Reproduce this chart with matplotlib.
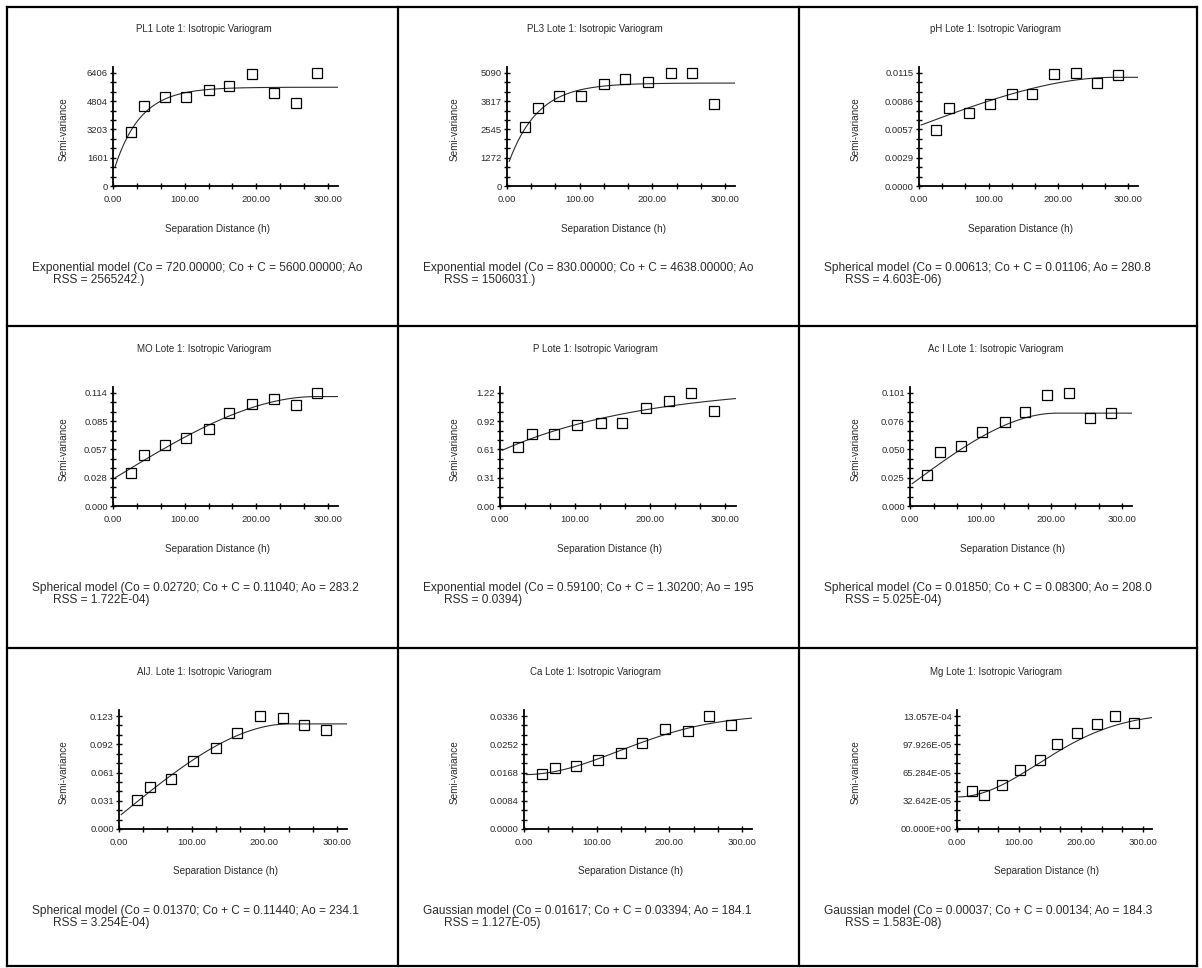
import numpy as np
import matplotlib
matplotlib.use("Agg")
import matplotlib.pyplot as plt
from matplotlib.ticker import FixedLocator, FixedFormatter, NullFormatter
from matplotlib.lines import Line2D

plt.rcParams['font.family'] = ['Liberation Sans', 'DejaVu Sans']

W, H = 1202, 968

# Mean separation distance of each lag class (same sampling grid for every variable)
lag_h = [24.5, 43, 72, 102, 134, 162, 194, 225, 255, 285]

titles = [
    "PL1 Lote 1: Isotropic Variogram",
    "PL3 Lote 1: Isotropic Variogram",
    "pH Lote 1: Isotropic Variogram",
    "MO Lote 1: Isotropic Variogram",
    "P Lote 1: Isotropic Variogram",
    "Ac I Lote 1: Isotropic Variogram",
    "AlJ. Lote 1: Isotropic Variogram",
    "Ca Lote 1: Isotropic Variogram",
    "Mg Lote 1: Isotropic Variogram",
]

# Experimental semivariances per lag class
gamma_pl1 = [3071, 4522, 5049, 5049, 5464, 5652, 6330, 5275, 4710, 6406]
gamma_pl3 = [2641, 3532, 4051, 4051, 4600, 4838, 4675, 5090, 5090, 3710]
gamma_ph = [0.00565, 0.00797, 0.00746, 0.00832, 0.00934, 0.00940, 0.0114, 0.0115, 0.01044, 0.0113]
gamma_mo = [0.0335, 0.0513, 0.0614, 0.0681, 0.0781, 0.0939, 0.1033, 0.1083, 0.1016, 0.114]
gamma_p = [0.640, 0.775, 0.782, 0.871, 0.900, 0.900, 1.053, 1.138, 1.22, 1.031]
gamma_ac = [0.0280, 0.0481, 0.0535, 0.0661, 0.0751, 0.0842, 0.0995, 0.101, 0.0791, 0.0830]
gamma_al = [0.0320, 0.0457, 0.0547, 0.0744, 0.0881, 0.1050, 0.123, 0.1212, 0.1133, 0.1075]
gamma_ca = [0.01646, 0.01821, 0.0187, 0.02065, 0.0226, 0.02552, 0.0297, 0.0291, 0.0336, 0.0309]
gamma_mg = [0.000440, 0.000395, 0.000508, 0.000685, 0.000798, 0.000986, 0.00111, 0.001212, 0.0013057, 0.001223]
gammas = [gamma_pl1, gamma_pl3, gamma_ph, gamma_mo, gamma_p, gamma_ac, gamma_al, gamma_ca, gamma_mg]

# Fitted models: type, nugget Co, sill Co + C, range parameter Ao
model_kind = ["exp", "exp", "sph", "sph", "exp", "sph", "sph", "gau", "gau"]
nugget = [720.0, 830.0, 0.00613, 0.02720, 0.59100, 0.01850, 0.01370, 0.01617, 0.00037]
sill = [5600.0, 4638.0, 0.01106, 0.11040, 1.30200, 0.08300, 0.11440, 0.03394, 0.00134]
range_a = [36.5, 40.0, 280.8, 283.2, 195.0, 208.0, 234.1, 184.1, 184.3]

# Axis maxima and y tick labels
y_max = [6406, 5090, 0.0115, 0.114, 1.22, 0.101, 0.123, 0.0336, 0.0013057]
y_ticklabels = [
    ["0", "1601", "3203", "4804", "6406"],
    ["0", "1272", "2545", "3817", "5090"],
    ["0.0000", "0.0029", "0.0057", "0.0086", "0.0115"],
    ["0.000", "0.028", "0.057", "0.085", "0.114"],
    ["0.00", "0.31", "0.61", "0.92", "1.22"],
    ["0.000", "0.025", "0.050", "0.076", "0.101"],
    ["0.000", "0.031", "0.061", "0.092", "0.123"],
    ["0.0000", "0.0084", "0.0168", "0.0252", "0.0336"],
    ["00.000E+00", "32.642E-05", "65.284E-05", "97.926E-05", "13.057E-04"],
]
x_ticks = [0, 100, 200, 300]
x_ticklabels = ["0.00", "100.00", "200.00", "300.00"]
x_max = 314

footnotes = [
    ("Exponential model (Co = 720.00000; Co + C = 5600.00000; Ao", "RSS = 2565242.)"),
    ("Exponential model (Co = 830.00000; Co + C = 4638.00000; Ao", "RSS = 1506031.)"),
    ("Spherical model (Co = 0.00613; Co + C = 0.01106; Ao = 280.8", "RSS = 4.603E-06)"),
    ("Spherical model (Co = 0.02720; Co + C = 0.11040; Ao = 283.2", "RSS = 1.722E-04)"),
    ("Exponential model (Co = 0.59100; Co + C = 1.30200; Ao = 195", "RSS = 0.0394)"),
    ("Spherical model (Co = 0.01850; Co + C = 0.08300; Ao = 208.0", "RSS = 5.025E-04)"),
    ("Spherical model (Co = 0.01370; Co + C = 0.11440; Ao = 234.1", "RSS = 3.254E-04)"),
    ("Gaussian model (Co = 0.01617; Co + C = 0.03394; Ao = 184.1", "RSS = 1.127E-05)"),
    ("Gaussian model (Co = 0.00037; Co + C = 0.00134; Ao = 184.3", "RSS = 1.583E-08)"),
]

# Page layout in pixels: table grid, then per panel the axis origin and x scale
col_edges = [7, 398, 799, 1197]
row_edges = [7, 326, 648, 966]
origin_x = [113, 507, 919, 113, 500, 910, 119, 524, 957]
px_per_unit = [0.717, 0.727, 0.697, 0.717, 0.75, 0.707, 0.727, 0.727, 0.62]
row_axis_y = [186, 506, 829]
row_title_y = [29, 349, 672]
row_xlabel_y = [229, 549, 871]
row_note_y = [268, 588, 911]
axis_px_h = 119
tick_px_h = 113

INK = "#2b2b2b"


def model(kind, h, c0, c, a):
    h = np.asarray(h, dtype=float)
    part = c - c0
    if kind == "exp":
        return c0 + part * (1.0 - np.exp(-h / a))
    if kind == "sph":
        r = np.clip(h / a, 0, 1)
        return c0 + part * (1.5 * r - 0.5 * r ** 3)
    return c0 + part * (1.0 - np.exp(-(h ** 2) / a ** 2))


fig = plt.figure(figsize=(W / 100, H / 100), dpi=100)
fig.patch.set_facecolor("white")

# table grid
for x in col_edges:
    fig.add_artist(Line2D([x / W, x / W], [1 - row_edges[0] / H, 1 - row_edges[-1] / H],
                          color="black", lw=1.6, transform=fig.transFigure))
for y in row_edges:
    fig.add_artist(Line2D([col_edges[0] / W, col_edges[-1] / W], [1 - y / H, 1 - y / H],
                          color="black", lw=1.6, transform=fig.transFigure))

h_line = np.linspace(3, x_max, 400)

for i in range(9):
    r, c = divmod(i, 3)
    cell_l = col_edges[c]
    x0 = origin_x[i]
    y0 = row_axis_y[r]
    wpx = x_max * px_per_unit[i]
    ax = fig.add_axes([x0 / W, 1 - y0 / H, wpx / W, axis_px_h / H])
    ymax = y_max[i]
    ax.set_xlim(0, x_max)
    ax.set_ylim(0, ymax * axis_px_h / tick_px_h)

    ax.plot(h_line, model(model_kind[i], h_line, nugget[i], sill[i], range_a[i]),
            color=INK, lw=0.8, zorder=2)
    ax.plot(lag_h, gammas[i], linestyle="none", marker="s", ms=7.2,
            mfc="none", mec="black", mew=0.9, zorder=3, clip_on=False)

    for side in ("top", "right"):
        ax.spines[side].set_visible(False)
    for side in ("left", "bottom"):
        ax.spines[side].set_linewidth(1.3)
        ax.spines[side].set_color("black")

    ax.yaxis.set_major_locator(FixedLocator([ymax * k / 4 for k in range(5)]))
    ax.yaxis.set_major_formatter(FixedFormatter(y_ticklabels[i]))
    ax.yaxis.set_minor_locator(FixedLocator([ymax * k / 12 for k in range(13) if k % 3]))
    ax.xaxis.set_major_locator(FixedLocator(x_ticks))
    ax.xaxis.set_major_formatter(FixedFormatter(x_ticklabels))
    ax.xaxis.set_minor_locator(FixedLocator([100 * k / 3 for k in range(10) if k % 3]))
    ax.yaxis.set_minor_formatter(NullFormatter())
    ax.xaxis.set_minor_formatter(NullFormatter())
    ax.tick_params(which="major", direction="inout", length=4.5, width=1.0,
                   labelsize=6.8, colors="black", labelcolor=INK)
    ax.tick_params(which="minor", direction="inout", length=4.0, width=1.0, colors="black")
    ax.tick_params(axis="y", which="major", pad=1.5)
    ax.tick_params(axis="x", which="major", pad=4.5)
    ax.set_facecolor("none")

    # panel title, axis captions and model summary
    fig.text((cell_l + 197) / W, 1 - row_title_y[r] / H, titles[i],
             ha="center", va="center", fontsize=7.0, color=INK)
    fig.text((x0 + wpx / 2 - 8) / W, 1 - row_xlabel_y[r] / H, "Separation Distance (h)",
             ha="center", va="center", fontsize=7.2, color=INK)
    fig.text((cell_l + 57) / W, 1 - (y0 - tick_px_h / 2) / H, "Semi-variance",
             ha="center", va="center", rotation=90, fontsize=7.2, color=INK)
    fig.text((cell_l + 25) / W, 1 - row_note_y[r] / H, footnotes[i][0],
             ha="left", va="center", fontsize=8.6, color=INK)
    fig.text((cell_l + 46) / W, 1 - (row_note_y[r] + 12) / H, footnotes[i][1],
             ha="left", va="center", fontsize=8.6, color=INK)

fig.savefig("out.png", dpi=100, facecolor="white")
